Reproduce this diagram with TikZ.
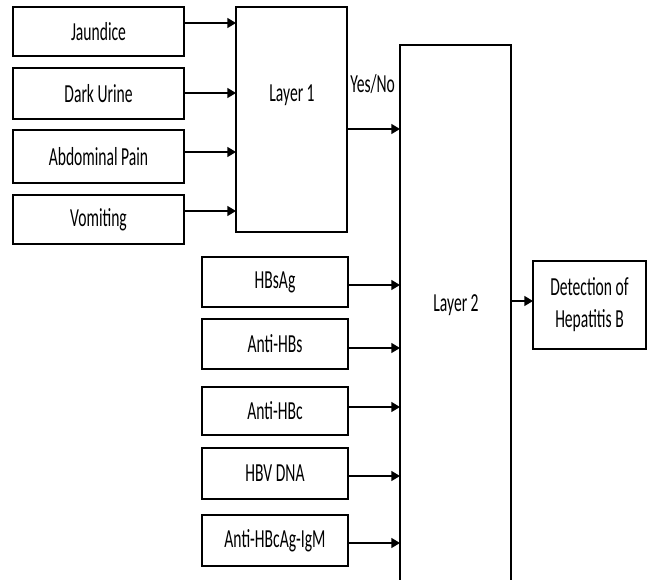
\documentclass[tikz,border=0pt]{standalone}
\usepackage{fontspec}
\setmainfont[FakeStretch=0.6]{Carlito}
\usetikzlibrary{arrows.meta}

% a box given by its two corners, in pixel units
\newcommand\boxat[6]{%
  \node[box,minimum width={(#4-#2)*0.75pt},minimum height={(#5-#3)*0.75pt}]
    (#1) at ({(#2+#4)/2},{(#3+#5)/2}) {#6};}

\tikzset{
  box/.style={draw=black,line width=1pt,fill=white,inner sep=0pt,outer sep=0pt,
    align=center,font=\fontsize{19.5}{24}\selectfont},
  lbl/.style={inner sep=0pt,font=\fontsize{19.5}{24}\selectfont},
  arr/.style={line width=1pt,-{Triangle[length=6.5pt,width=7.5pt]}},
}

\begin{document}
\begin{tikzpicture}[x=0.75pt,y=-0.75pt]
\useasboundingbox (0,0) rectangle (647,580);
\clip (0,0) rectangle (647,580);
\fill[white] (0,0) rectangle (647,580);

% symptoms
\boxat{j}{13}{7}{184}{56}{Jaundice}
\boxat{d}{13}{68}{184}{119}{Dark Urine}
\boxat{a}{13}{130}{184}{183}{Abdominal Pain}
\boxat{v}{13}{195}{184}{244}{Vomiting}

% first layer
\boxat{L1}{236}{7}{347}{232}{}
\node[lbl,anchor=base] (l1t) at (292,102) {Layer 1};

% serological markers
\boxat{s}{202}{257}{348}{307}{HBsAg}
\boxat{ab}{202}{319}{348}{369}{Anti-HBs}
\boxat{ac}{202}{387}{348}{435}{Anti-HBc}
\boxat{dna}{202}{448}{348}{499}{HBV DNA}
\boxat{igm}{202}{515}{348}{566}{Anti-HBcAg-IgM}

% second layer, running past the lower edge
\boxat{L2}{400}{45}{511}{640}{}
\node[lbl,anchor=base] (l2t) at (456,312) {Layer 2};

% result
\boxat{res}{533}{261}{646}{349}{Detection of\\Hepatitis B}

% connectors into layer 1
\draw[arr] (j.east |- 0,23) -- (L1.west |- 0,23);
\draw[arr] (d.east |- 0,93) -- (L1.west |- 0,93);
\draw[arr] (a.east |- 0,152) -- (L1.west |- 0,152);
\draw[arr] (v.east |- 0,211) -- (L1.west |- 0,211);

% layer 1 to layer 2
\draw[arr] (L1.east |- 0,129) -- (L2.west |- 0,129);
\node[lbl,anchor=base west] (yn) at (350,93) {Yes/No};

% connectors into layer 2
\draw[arr] (s.east |- 0,285) -- (L2.west |- 0,285);
\draw[arr] (ab.east |- 0,348) -- (L2.west |- 0,348);
\draw[arr] (ac.east |- 0,407) -- (L2.west |- 0,407);
\draw[arr] (dna.east |- 0,476) -- (L2.west |- 0,476);
\draw[arr] (igm.east |- 0,543) -- (L2.west |- 0,543);

% layer 2 to result
\draw[arr] (L2.east |- 0,301) -- (res.west |- 0,301);
\end{tikzpicture}
\end{document}
